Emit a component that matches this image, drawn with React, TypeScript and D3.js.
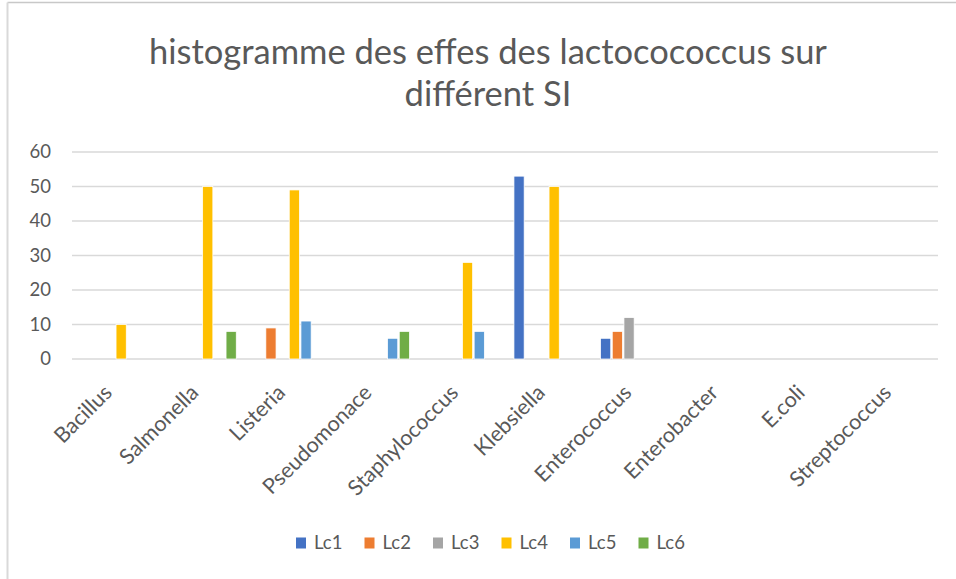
import { useEffect, useRef } from 'react'
import * as d3 from 'd3'

const categories = [
  'Bacillus',
  'Salmonella',
  'Listeria',
  'Pseudomonace',
  'Staphylococcus',
  'Klebsiella',
  'Enterococcus',
  'Enterobacter',
  'E.coli',
  'Streptococcus',
]

const seriesNames = ['Lc1', 'Lc2', 'Lc3', 'Lc4', 'Lc5', 'Lc6']
const seriesColors = ['#4472C4', '#ED7D31', '#A5A5A5', '#FFC000', '#5B9BD5', '#70AD47']

// one array per series, one value per category
const lc1 = [0, 0, 0, 0, 0, 53, 6, 0, 0, 0]
const lc2 = [0, 0, 9, 0, 0, 0, 8, 0, 0, 0]
const lc3 = [0, 0, 0, 0, 0, 0, 12, 0, 0, 0]
const lc4 = [10, 50, 49, 0, 28, 50, 0, 0, 0, 0]
const lc5 = [0, 0, 11, 6, 8, 0, 0, 0, 0, 0]
const lc6 = [0, 8, 0, 8, 0, 0, 0, 0, 0, 0]

const yTicks = [0, 10, 20, 30, 40, 50, 60]
const titleLines = ['histogramme des effes des lactocococcus sur', 'différent SI']

export default function App() {
  const svgRef = useRef<SVGSVGElement>(null)

  useEffect(() => {
    if (!svgRef.current) return
    const svg = d3.select(svgRef.current)
    svg.selectAll('*').remove()

    const W = 956
    const H = 579
    const font = 'Lato, "Open Sans", sans-serif'
    const textColor = '#595959'
    const series = [lc1, lc2, lc3, lc4, lc5, lc6]

    svg.append('rect').attr('width', W).attr('height', H).attr('fill', '#fff')

    // chart border (only top and left show)
    svg.append('line')
      .attr('x1', 7.5).attr('x2', W).attr('y1', 2.5).attr('y2', 2.5)
      .attr('stroke', '#c8c8c8').attr('stroke-width', 1.5)
    svg.append('line')
      .attr('x1', 7.5).attr('x2', 7.5).attr('y1', 2.5).attr('y2', H)
      .attr('stroke', '#d9d9d9').attr('stroke-width', 2)

    const plot = { left: 72, right: 938, top: 152, bottom: 359 }

    const x = d3.scaleBand<string>()
      .domain(categories)
      .range([plot.left, plot.right])
      .padding(0)

    const slot = 11.7
    const groupW = slot * seriesNames.length
    const x1 = d3.scaleBand<string>()
      .domain(seriesNames)
      .range([0, groupW])
      .padding(0)

    const y = d3.scaleLinear().domain([0, 60]).range([plot.bottom, plot.top])

    // gridlines
    svg.append('g')
      .selectAll('line')
      .data(yTicks)
      .join('line')
      .attr('x1', plot.left)
      .attr('x2', plot.right)
      .attr('y1', d => y(d))
      .attr('y2', d => y(d))
      .attr('stroke', '#d9d9d9')
      .attr('stroke-width', 1.5)

    // y labels
    svg.append('g')
      .selectAll('text')
      .data(yTicks)
      .join('text')
      .attr('x', 51)
      .attr('y', d => y(d))
      .attr('dy', '0.35em')
      .attr('text-anchor', 'end')
      .attr('font-family', font)
      .attr('font-size', 18.5)
      .attr('fill', textColor)
      .text(d => d)

    // bars
    const groups = svg.append('g')
      .selectAll('g')
      .data(categories)
      .join('g')
      .attr('transform', c => `translate(${(x(c) ?? 0) + (x.bandwidth() - groupW) / 2},0)`)

    groups.selectAll('rect')
      .data((_, ci) => seriesNames.map((s, si) => ({ s, si, v: series[si][ci] })).filter(d => d.v > 0))
      .join('rect')
      .attr('x', d => (x1(d.s) ?? 0) + 0.75)
      .attr('width', x1.bandwidth() - 1.5)
      .attr('y', d => y(d.v))
      .attr('height', d => y(0) - y(d.v))
      .attr('fill', d => seriesColors[d.si])
      .attr('stroke', '#fff')
      .attr('stroke-width', 0.75)

    // x labels
    svg.append('g')
      .selectAll('text')
      .data(categories)
      .join('text')
      .attr('transform', c => `translate(${(x(c) ?? 0) + x.bandwidth() / 2 - 2},${plot.bottom + 35}) rotate(-45)`)
      .attr('text-anchor', 'end')
      .attr('font-family', font)
      .attr('font-size', 21.5)
      .attr('fill', textColor)
      .text(c => c)

    // title
    svg.append('g')
      .selectAll('text')
      .data(titleLines)
      .join('text')
      .attr('x', 488)
      .attr('y', (_, i) => 64 + i * 42)
      .attr('text-anchor', 'middle')
      .attr('font-family', font)
      .attr('font-size', 34.5)
      .attr('fill', textColor)
      .text(d => d)

    // legend
    const legend = svg.append('g')
      .selectAll('g')
      .data(seriesNames)
      .join('g')
      .attr('transform', (_, i) => `translate(${296 + i * 68.5},537)`)
    legend.append('rect')
      .attr('width', 10)
      .attr('height', 11)
      .attr('y', 0.5)
      .attr('fill', (_, i) => seriesColors[i])
    legend.append('text')
      .attr('x', 18)
      .attr('y', 6)
      .attr('dy', '0.35em')
      .attr('font-family', font)
      .attr('font-size', 18.5)
      .attr('fill', textColor)
      .text(d => d)
  }, [])

  return (
    <div style={{ position: 'absolute', left: 0, top: 0 }}>
      <svg ref={svgRef} width={956} height={579} style={{ display: 'block' }} />
    </div>
  )
}
